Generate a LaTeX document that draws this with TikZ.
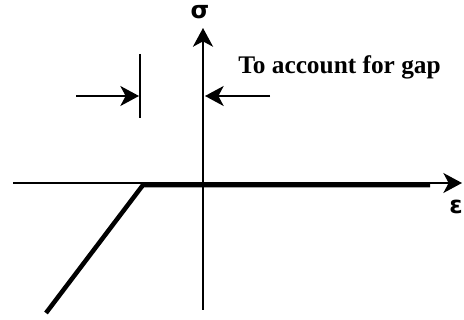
\documentclass[tikz,border=0pt]{standalone}
\usepackage{fontspec}
\setmainfont{Liberation Serif}
\newfontfamily\greekfont{DejaVu Sans}
\usetikzlibrary{arrows.meta, positioning}

\begin{document}
\begin{tikzpicture}[
    x=0.75pt, y=-0.75pt,
    tip/.style={-{Stealth[length=14pt, width=15pt, inset=4pt]}},
    axisline/.style={tip, line width=1.1pt},
    curveline/.style={line width=3.4pt, line join=round},
    gaparrow/.style={tip, line width=1.7pt},
    lbl/.style={font=\greekfont\fontsize{18}{20}\selectfont\bfseries, inner sep=0pt},
]

\useasboundingbox (0,0) rectangle (464,320);

% ===== Axes =====
\coordinate (O) at (203,183);
\coordinate (xstart) at (13,183);
\coordinate (xend) at (462,183);
\coordinate (ystart) at (203,310);
\coordinate (yend) at (203,28);

\draw[axisline] (xstart) -- (xend);
\draw[tip, line width=2.1pt] (ystart) -- (yend);

\node[lbl, anchor=base] (sigma) at (200,18.5) {σ};
\node[lbl, anchor=base] (eps) at (456,213.5) {ε};

% ===== Stress-strain curve =====
\coordinate (low) at (46,313);
\coordinate (kink) at (143,185);
\coordinate (flat) at (430,185);
\draw[curveline] (low) -- (kink) -- (flat);

% ===== Gap marker =====
\coordinate (bartop) at (140,54);
\coordinate (barbot) at (140,118);
\coordinate (barmid) at (139,96);
\coordinate (lfrom) at (76,96);
\coordinate (rfrom) at (270,96);
\coordinate (axmid) at (205,96);

\draw[line width=1.8pt] (bartop) -- (barbot);
\draw[gaparrow] (lfrom) -- (barmid);
\draw[gaparrow] (rfrom) -- (axmid);

\node[anchor=base west, inner sep=0pt, font=\fontsize{19}{22}\selectfont\bfseries] (gap) at (238,74) {To account for gap};

\end{tikzpicture}
\end{document}
